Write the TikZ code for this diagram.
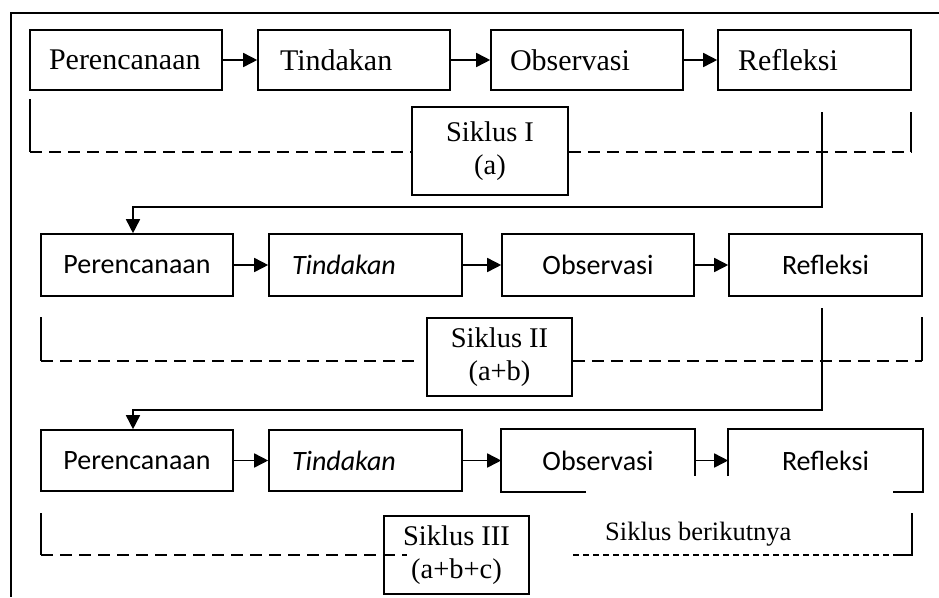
\documentclass[tikz,border=0pt]{standalone}
\usepackage{fontspec}
\setmainfont{Liberation Serif}
\newfontfamily\calib{Carlito}
\usetikzlibrary{arrows.meta,calc}
\begin{document}
\begin{tikzpicture}[x=1pt,y=-1pt,
  ln/.style={line width=1.6pt},
  box/.style={ln, draw, rectangle, inner sep=0pt, minimum width=192pt},
  rowa/.style={box, minimum height=60pt, font=\fontsize{30}{36}\selectfont},
  rowb/.style={box, minimum height=62pt, font=\calib\fontsize{28}{32}\selectfont},
  rowc/.style={rowb, minimum height=61pt},
  siklus/.style={box, align=center, font=\fontsize{28.5}{32.5}\selectfont},
  arr/.style={ln, -{Triangle[length=14pt,width=14pt]}},
  dline/.style={ln, dash pattern=on 12pt off 7pt},
  fline/.style={ln, dash pattern=on 6pt off 4pt}]
\useasboundingbox (0,0) rectangle (939,597);
% outer frame
\draw[ln] (939,13) -- (11,13) -- (11,597);
% row 1
\node[rowa] (p1) at (126,60) {\makebox[154pt][l]{Perencanaan}};
\node[rowa] (t1) at (354,60) {\makebox[148pt][l]{Tindakan}};
\node[rowa] (o1) at (587,60) {\makebox[154pt][l]{Observasi}};
\node[rowa, minimum width=193pt] (r1) at (814.5,60) {\makebox[153pt][l]{Refleksi}};
\draw[arr] (p1) -- (t1);
\draw[arr] (t1) -- (o1);
\draw[arr] (o1) -- (r1);
\node[siklus, minimum width=156pt, minimum height=88pt] (s1) at (490,151) {Siklus I\\(a)};
\draw[ln] (30,99) -- (30,152);
\draw[dline] (30,152) -- (s1.west |- 0,152);
\draw[dline] (s1.east |- 0,152) -- (911,152);
\draw[ln] (911,152) -- (911,112);
% row 2
\node[rowb] (p2) at (137,265) {Perencanaan};
\node[rowb, minimum width=193pt] (t2) at (365.5,265) {\makebox[147pt][l]{\itshape Tindakan}};
\node[rowb] (o2) at (598,265) {Observasi};
\node[rowb, minimum width=193pt] (r2) at (825.5,265) {Refleksi};
\draw[arr] (p2) -- (t2);
\draw[arr] (t2) -- (o2);
\draw[arr] (o2) -- (r2);
\coordinate (c1) at (822,112);
\coordinate (k1) at (133,207);
\draw[arr] (c1) |- (k1) -- (k1 |- p2.north);
\node[siklus, minimum width=145pt, minimum height=78pt] (s2) at (499.5,357) {Siklus II\\(a+b)};
\draw[ln] (41,317) -- (41,361);
\draw[dline] (41,361) -- (415,361);
\draw[dline] (s2.east |- 0,361) -- (922,361);
\draw[ln] (922,361) -- (922,317);
% row 3
\node[rowc] (p3) at (137,460.5) {Perencanaan};
\node[rowc, minimum width=193pt] (t3) at (365.5,460.5) {\makebox[147pt][l]{\itshape Tindakan}};
\node[rowc, draw=none] (o3) at (598,460.5) {Observasi};
\node[rowc, draw=none, minimum width=193pt] (r3) at (825.5,460.5) {Refleksi};
\draw[ln] ($(o3.south west)+(85,0)$) -- (o3.south west) -- (o3.north west) -- (o3.north east) -- ($(o3.north east)+(0,47)$);
\draw[ln] ($(r3.north west)+(0,47)$) -- (r3.north west) -- (r3.north east) -- (r3.south east) -- ($(r3.south east)+(-30,0)$);
\draw[arr] (p3) -- (t3);
\draw[arr] (t3) -- (o3);
\draw[arr] (o3) -- (r3);
\coordinate (c2) at (822,308);
\coordinate (k2) at (133,410);
\draw[arr] (c2) |- (k2) -- (k2 |- p3.north);
\node[siklus, minimum width=145pt, minimum height=78pt] (s3) at (456.5,555) {Siklus III\\(a+b+c)};
\draw[ln] (41,513) -- (41,555);
\draw[dline] (41,555) -- (407,555);
\node[anchor=base west, inner sep=0pt, font=\fontsize{26.5}{30}\selectfont] (nx) at (605,540) {Siklus berikutnya};
\draw[fline] (573,555) -- (898,555);
\draw[ln] (898,555) -- (912,555) -- (912,513);
\end{tikzpicture}
\end{document}
